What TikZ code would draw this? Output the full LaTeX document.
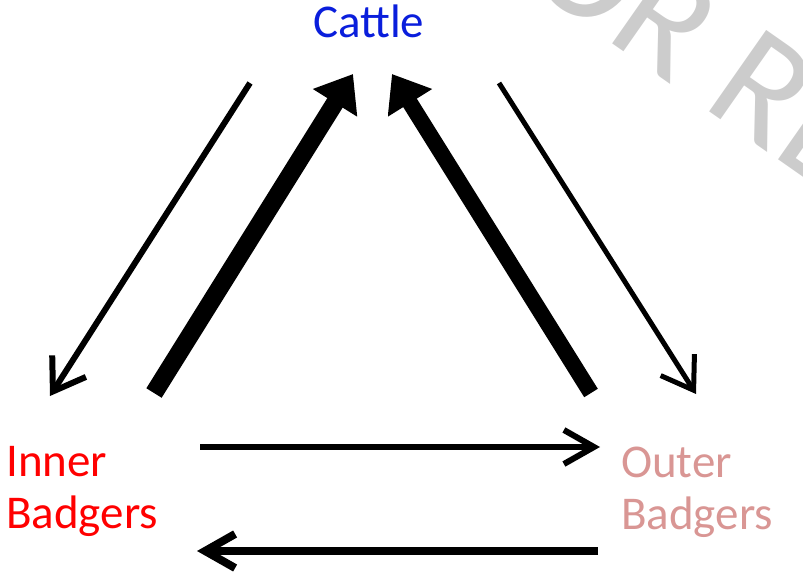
\documentclass[tikz,border=0pt]{standalone}
\usepackage{fontspec}
\setmainfont{Carlito}
\usetikzlibrary{arrows.meta}
\definecolor{cattleblue}{RGB}{10,30,220}
\definecolor{innerred}{RGB}{255,0,0}
\definecolor{outerpink}{RGB}{217,150,148}
\definecolor{wmgray}{RGB}{204,204,204}
\begin{document}
\begin{tikzpicture}[x=1pt,y=-1pt,
  lbl/.style={inner sep=0pt, font=\fontsize{47}{52}\selectfont, align=left},
  fluxline/.style={draw=black, line cap=butt},
  barbtip/.style={-{Straight Barb[length=30pt,width=40pt]}},
  bigtip/.style={-{Triangle[length=34pt,width=50pt]}}
]
\useasboundingbox (0,0) rectangle (803,577);
% watermark
\node[rotate=-35, anchor=base west, text=wmgray, inner sep=0pt,
      font=\fontsize{155}{155}\selectfont] (wm) at (462,-62) {FOR REVIEW};
% labels
\node[lbl, text=cattleblue, anchor=base west] (cattle) at (313,38) {Cattle};
\node[lbl, text=innerred, anchor=base west] (inner) at (6,528) {Inner\\Badgers};
\node[lbl, text=outerpink, anchor=base west] (outer) at (621,529) {Outer\\Badgers};
% end points
\coordinate (a1s) at (250,83);  \coordinate (a1e) at (50,396);
\coordinate (a2s) at (154,393); \coordinate (a2e) at (353,74);
\coordinate (a3s) at (591,393); \coordinate (a3e) at (392,74);
\coordinate (a4s) at (499,83);  \coordinate (a4e) at (696,394);
\coordinate (a5s) at (200,447); \coordinate (a5e) at (600,447);
\coordinate (a6s) at (598,551); \coordinate (a6e) at (197,551);
% connectors
\draw[fluxline, line width=6pt, barbtip] (a1s) -- (a1e);
\begin{scope}
  \clip (0,0) rectangle (357,577);
  \draw[fluxline, line width=18pt, bigtip] (a2s) -- (a2e);
\end{scope}
\begin{scope}
  \clip (388,0) rectangle (803,577);
  \draw[fluxline, line width=16pt, bigtip] (a3s) -- (a3e);
\end{scope}
\draw[fluxline, line width=5pt, barbtip] (a4s) -- (a4e);
\draw[fluxline, line width=6pt, -{Straight Barb[length=30pt,width=34pt]}] (a5s) -- (a5e);
\draw[fluxline, line width=8pt, -{Straight Barb[length=30pt,width=34pt]}] (a6s) -- (a6e);
\end{tikzpicture}
\end{document}
